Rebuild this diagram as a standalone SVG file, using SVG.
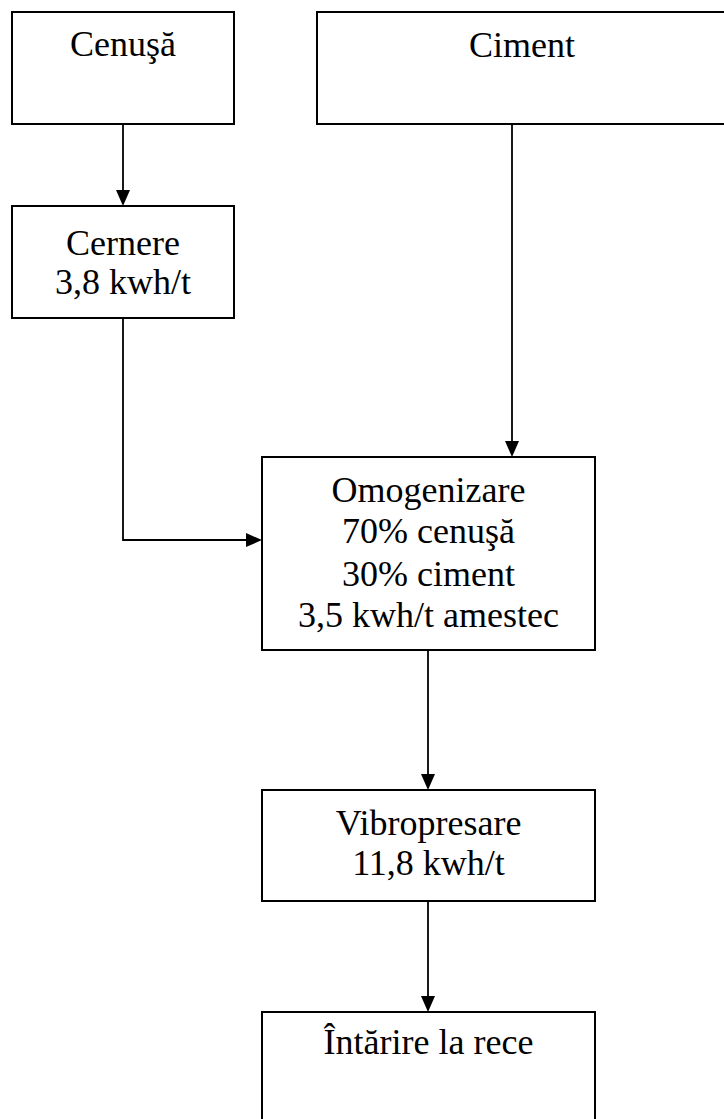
<svg xmlns="http://www.w3.org/2000/svg" width="724" height="1119" viewBox="0 0 724 1119">
<style>
.box{fill:#fff;stroke:#000;stroke-width:2}
.t{font-family:'Times New Roman','Liberation Serif',serif;font-size:36px;fill:#000;text-anchor:middle}
.c{fill:none;stroke:#000;stroke-width:1.8}
.h{fill:#000;stroke:none}
</style>
<rect width="724" height="1119" fill="#fff"/>
<g id="connectors">
<path class="c" d="M123,124 V192"/>
<path class="h" d="M116,190 L130,190 L123,206 Z"/>
<path class="c" d="M123,318 V540 H248"/>
<path class="h" d="M246,533 L246,547 L262,540 Z"/>
<path class="c" d="M512,124 V443"/>
<path class="h" d="M505,441 L519,441 L512,457 Z"/>
<path class="c" d="M428,650 V776"/>
<path class="h" d="M421,774 L435,774 L428,790 Z"/>
<path class="c" d="M428,901 V998"/>
<path class="h" d="M421,996 L435,996 L428,1012 Z"/>
</g>
<g id="cenusa">
<rect class="box" x="12" y="12" width="222" height="112"/>
<text class="t" x="123" y="56">Cenuşă</text>
</g>
<g id="ciment">
<rect class="box" x="317" y="12" width="420" height="112"/>
<text class="t" x="522" y="57">Ciment</text>
</g>
<g id="cernere">
<rect class="box" x="12" y="206" width="222" height="112"/>
<text class="t" x="123" y="255">Cernere</text>
<text class="t" x="123" y="294">3,8 kwh/t</text>
</g>
<g id="omogenizare">
<rect class="box" x="262" y="457" width="333" height="193"/>
<text class="t" x="428.5" y="502">Omogenizare</text>
<text class="t" x="428.5" y="543">70% cenuşă</text>
<text class="t" x="428.5" y="586">30% ciment</text>
<text class="t" x="428.5" y="627">3,5 kwh/t amestec</text>
</g>
<g id="vibropresare">
<rect class="box" x="262" y="790" width="333" height="111"/>
<text class="t" x="428.5" y="835">Vibropresare</text>
<text class="t" x="428.5" y="875">11,8 kwh/t</text>
</g>
<g id="intarire">
<rect class="box" x="262" y="1012" width="333" height="130"/>
<text class="t" x="428.5" y="1054">Întărire la rece</text>
</g>
</svg>
